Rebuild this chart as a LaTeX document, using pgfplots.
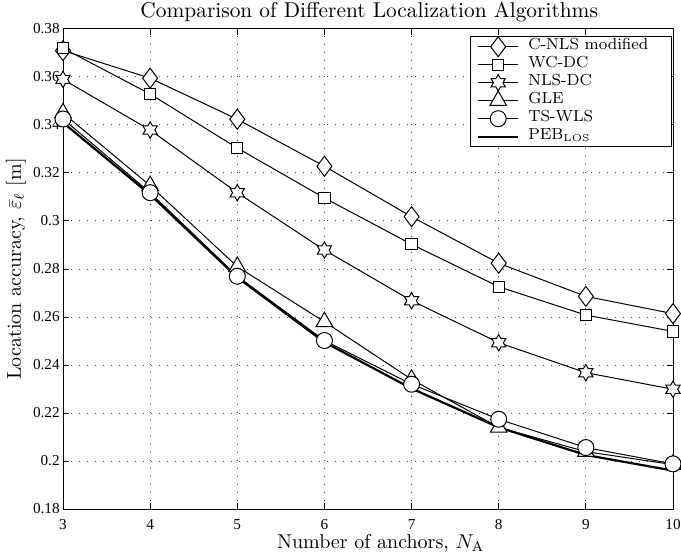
\documentclass[border=0pt]{standalone}
\usepackage{fontspec}
\usepackage{pgfplots}
\pgfplotsset{compat=1.18}
\newfontfamily\tickfont{Liberation Serif}
\pgfdeclareplotmark{hexagram}{%
  \pgfpathmoveto{\pgfpointpolar{90}{\pgfplotmarksize}}%
  \pgfpathlineto{\pgfpointpolar{120}{0.577\pgfplotmarksize}}%
  \pgfpathlineto{\pgfpointpolar{150}{\pgfplotmarksize}}%
  \pgfpathlineto{\pgfpointpolar{180}{0.577\pgfplotmarksize}}%
  \pgfpathlineto{\pgfpointpolar{210}{\pgfplotmarksize}}%
  \pgfpathlineto{\pgfpointpolar{240}{0.577\pgfplotmarksize}}%
  \pgfpathlineto{\pgfpointpolar{270}{\pgfplotmarksize}}%
  \pgfpathlineto{\pgfpointpolar{300}{0.577\pgfplotmarksize}}%
  \pgfpathlineto{\pgfpointpolar{330}{\pgfplotmarksize}}%
  \pgfpathlineto{\pgfpointpolar{0}{0.577\pgfplotmarksize}}%
  \pgfpathlineto{\pgfpointpolar{30}{\pgfplotmarksize}}%
  \pgfpathlineto{\pgfpointpolar{60}{0.577\pgfplotmarksize}}%
  \pgfpathclose
  \pgfusepathqfillstroke
}
\newcommand{\legtxt}[1]{\makebox[68pt][l]{#1}}
\begin{document}
\begin{tikzpicture}
\begin{axis}[
  scale only axis,
  width=305pt, height=240pt,
  xmin=3, xmax=10, ymin=0.18, ymax=0.38,
  xtick={3,4,5,6,7,8,9,10},
  ytick={0.18,0.2,0.22,0.24,0.26,0.28,0.3,0.32,0.34,0.36,0.38},
  yticklabel style={/pgf/number format/fixed, /pgf/number format/precision=2},
  /pgf/number format/assume math mode=true,
  tick align=inside,
  tick pos=both,
  major tick length=3pt,
  grid=major,
  grid style={dash pattern=on 0.5pt off 3.5pt, black!70, line width=0.5pt},
  axis line style={line width=0.5pt},
  tick style={line width=0.5pt, black},
  tick label style={font=\tickfont\fontsize{7.6}{8}\selectfont},
  xticklabel style={inner sep=0pt, yshift=-5pt},
  yticklabel style={inner sep=0pt, xshift=-1.5pt},
  every axis title shift=0pt,
  title={Comparison of Different Localization Algorithms},
  title style={at={(0.502,1)}, anchor=base, yshift=5.5pt, inner sep=0pt, font=\fontsize{10.7}{12}\selectfont},
  xlabel={Number of anchors, $N_{\mathrm{A}}$},
  ylabel={Location accuracy, $\bar{\varepsilon}_\ell$ [m]},
  xlabel style={at={(0.521,0)}, anchor=base, yshift=-19.5pt, inner sep=0pt, font=\fontsize{10}{12}\selectfont},
  ylabel style={at={(0,0.5)}, anchor=center, rotate=0, yshift=23.5pt, inner sep=0pt, font=\fontsize{10}{12}\selectfont},
  legend cell align=left,
  legend style={draw=black, line width=0.5pt, font=\fontsize{8}{9}\selectfont,
    inner xsep=3.5pt, inner ysep=0.5pt,
    nodes={inner xsep=0pt, inner ysep=0pt, text height=5.9pt, text depth=3.1pt},
    /tikz/every odd column/.append style={column sep=4.5pt},
    at={(0.998,0.985)}, anchor=north east},
  legend image code/.code={%
    \draw[mark=none] (0pt,0pt) -- (20pt,0pt);
    \path[overlay] plot coordinates {(10pt,0pt)};},
  every axis plot/.append style={black, line width=0.5pt, mark options={solid, fill=white, draw=black, line width=0.5pt}},
]
\addplot[mark=diamond*, mark size=5pt] coordinates {(3,0.371) (4,0.3595) (5,0.3424) (6,0.3228) (7,0.3018) (8,0.2824) (9,0.2686) (10,0.2614)};
\addlegendentry{\legtxt{C-NLS modified}}
\addplot[mark=square*, mark size=2.8pt] coordinates {(3,0.372) (4,0.3529) (5,0.3304) (6,0.3096) (7,0.2903) (8,0.2726) (9,0.2608) (10,0.2540)};
\addlegendentry{\legtxt{WC-DC}}
\addplot[mark=hexagram, mark size=4.1pt] coordinates {(3,0.359) (4,0.3379) (5,0.3118) (6,0.2879) (7,0.2668) (8,0.2493) (9,0.2368) (10,0.2299)};
\addlegendentry{\legtxt{NLS-DC}}
\addplot[mark=triangle*, mark size=4.8pt] coordinates {(3,0.345) (4,0.3147) (5,0.281) (6,0.258) (7,0.234) (8,0.2140) (9,0.2039) (10,0.1985)};
\addlegendentry{\legtxt{GLE}}
\addplot[mark=*, mark size=4pt] coordinates {(3,0.3425) (4,0.3118) (5,0.277) (6,0.2502) (7,0.232) (8,0.2174) (9,0.2056) (10,0.1988)};
\addlegendentry{\legtxt{TS-WLS}}
\addplot[no marks, line width=1.1pt] coordinates {(3,0.341) (4,0.311) (5,0.2765) (6,0.2495) (7,0.2302) (8,0.2140) (9,0.2025) (10,0.1960)};
\addlegendentry{\legtxt{PEB$_{\mathrm{\scriptscriptstyle LOS}}$}}
\end{axis}
\pgfresetboundingbox
\path ([xshift=-31.5pt,yshift=-23.5pt]current axis.south west) rectangle ([xshift=4pt,yshift=14.5pt]current axis.north east);
\end{tikzpicture}
\end{document}
